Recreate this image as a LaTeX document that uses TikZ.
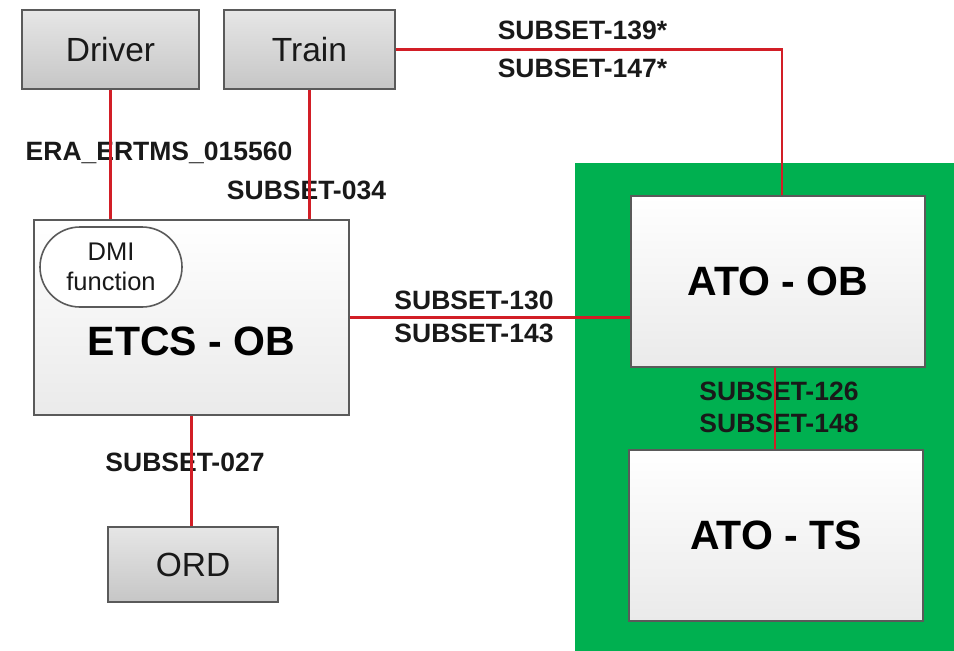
\documentclass[tikz,border=0pt]{standalone}
\usepackage{fontspec}
\setmainfont{Liberation Sans}
\definecolor{boxgreen}{RGB}{0,176,80}
\definecolor{linkred}{RGB}{210,30,38}
\definecolor{boxedge}{RGB}{90,90,90}
\definecolor{txtdark}{RGB}{25,25,25}
\tikzset{
  actor/.style={draw=boxedge, line width=2.4pt, top color={rgb,255:red,230;green,230;blue,230}, bottom color={rgb,255:red,198;green,198;blue,198}, inner sep=0pt, text=txtdark, font=\fontsize{33.5}{36}\selectfont},
  bigfont/.style={text=black, font=\bfseries\fontsize{41}{44}\selectfont},
  bigbox/.style={draw=boxedge, line width=2.2pt, top color=white, bottom color={rgb,255:red,234;green,234;blue,234}, inner sep=0pt, bigfont},
  bigtext/.style={inner sep=0pt, bigfont},
  dmibox/.style={draw=boxedge, line width=1.6pt, fill=white, rounded corners=40pt, inner sep=0pt, align=center, text=txtdark, font=\fontsize{25.5}{30}\selectfont},
  lbl/.style={inner sep=0pt, text=txtdark, font=\bfseries\fontsize{26.5}{30}\selectfont},
  link/.style={draw=linkred, line width=2.6pt}
}
\begin{document}
\begin{tikzpicture}[x=1pt,y=-1pt]
\useasboundingbox (0,0) rectangle (954,651);
\fill[white] (0,0) rectangle (954,651);
% green area
\fill[boxgreen] (575,163) rectangle (954,651);
% boxes
\node[actor, minimum width=177pt, minimum height=79pt] (driver) at (110.5,49.5) {Driver};
\node[actor, minimum width=171pt, minimum height=79pt] (train) at (309.5,49.5) {Train};
\node[bigbox, minimum width=315pt, minimum height=195pt] (etcs) at (191.5,317.5) {};
\node[bigtext] (etcslbl) at (191.5,341) {ETCS - OB};
\node[dmibox, minimum width=142pt, minimum height=80pt] (dmi) at (111,267) {DMI\\function};
\node[actor, minimum width=170pt, minimum height=75pt] (ord) at (193,564.5) {ORD};
\node[bigbox, minimum width=294pt, minimum height=171pt] (atoob) at (778,281.5) {ATO - OB};
\node[bigbox, minimum width=294pt, minimum height=171pt] (atots) at (776,535.5) {ATO - TS};
% labels
\node[lbl] (l1) at (159,153) {ERA\_ERTMS\_015560};
\node[lbl] (l2) at (306.5,190) {SUBSET-034};
\node[lbl] (l3) at (582.5,30) {SUBSET-139*};
\node[lbl] (l4) at (582.5,68) {SUBSET-147*};
\node[lbl] (l5) at (474,300) {SUBSET-130};
\node[lbl] (l6) at (474,333) {SUBSET-143};
\node[lbl] (l7) at (779,391) {SUBSET-126};
\node[lbl] (l8) at (779,423) {SUBSET-148};
\node[lbl] (l9) at (185,462) {SUBSET-027};
% connectors
\coordinate (dtop) at (driver.south |- etcs.north);
\draw[link] (driver.south) -- (dtop);
\draw[link] (train.south) -- (train.south |- etcs.north);
\draw[link] (etcs.south) -- (etcs.south |- ord.north);
\draw[link] (etcs.east) -- (etcs.east -| atoob.west);
\coordinate (atotop) at ([xshift=4pt]atoob.north);
\draw[link] (train.east) -| (atotop);
\coordinate (atobot) at ([xshift=-3pt]atoob.south);
\draw[link] (atobot) -- (atobot |- atots.north);
\end{tikzpicture}
\end{document}
